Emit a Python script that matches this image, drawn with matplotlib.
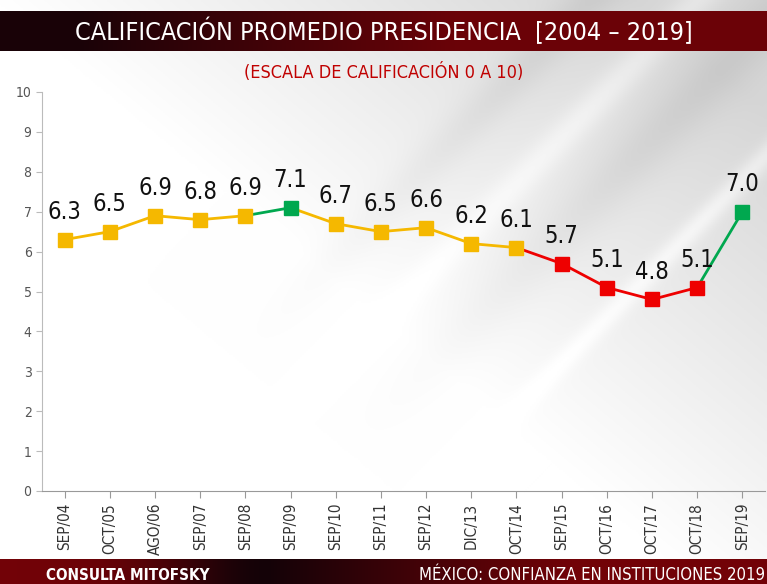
import matplotlib.pyplot as plt
import numpy as np

fechas = ['SEP/04', 'OCT/05', 'AGO/06', 'SEP/07', 'SEP/08', 'SEP/09', 'SEP/10', 'SEP/11',
          'SEP/12', 'DIC/13', 'OCT/14', 'SEP/15', 'OCT/16', 'OCT/17', 'OCT/18', 'SEP/19']
calificacion = [6.3, 6.5, 6.9, 6.8, 6.9, 7.1, 6.7, 6.5, 6.6, 6.2, 6.1, 5.7, 5.1, 4.8, 5.1, 7.0]
colores = ['#F5B800'] * 5 + ['#00A84F'] + ['#F5B800'] * 5 + ['#EE0000'] * 4 + ['#00A84F']

plt.rcParams['font.family'] = 'DejaVu Sans'
plt.rcParams['font.stretch'] = 'condensed'

fig = plt.figure(figsize=(7.67, 5.84), dpi=100)

# background: white with soft gray diagonal streaks towards the top right
bg = fig.add_axes([0, 0, 1, 1])
xx, yy = np.meshgrid(np.linspace(0, 1, 400), np.linspace(0, 1, 300))
d = (xx - 0.5) * 1.2 + (yy - 0.45) * 1.1
shade = 1 - 0.16 * np.clip(d, 0, 1)
s = xx - 0.75 * yy  # runs along "\" streaks
for c, w, a in [(0.02, 0.04, -0.05), (0.16, 0.03, 0.06), (0.28, 0.05, -0.05), (0.45, 0.02, 0.07)]:
    shade += a * np.exp(-((s - c) / w) ** 2) * np.clip(d + 0.3, 0, 1)
bg.imshow(np.dstack([np.clip(shade, 0, 1)] * 3), extent=[0, 1, 0, 1], aspect='auto', origin='lower')
bg.set_xlim(0, 1)
bg.set_ylim(0, 1)
bg.axis('off')

# title band
band = fig.add_axes([0, 1 - 51 / 584, 1, 40 / 584])
g = np.linspace(0, 1, 400)
r = 0.10 + 0.32 * np.clip((g - 0.1) / 0.5, 0, 1)
band.imshow(np.dstack([r[None, :], 0.01 + 0 * r[None, :], 0.03 + 0 * r[None, :]]),
            extent=[0, 1, 0, 1], aspect='auto')
band.axis('off')
band.text(0.5, 0.48, 'CALIFICACIÓN PROMEDIO PRESIDENCIA  [2004 – 2019]', color='white',
          fontsize=18, ha='center', va='center')

# footer band
foot = fig.add_axes([0, 0, 1, 25 / 584])
r2 = 0.45 - 0.37 * np.exp(-((g - 0.35) / 0.15) ** 2) * (g < 0.35) - 0.37 * (g >= 0.35) * np.clip(1 - (g - 0.35) / 0.4, 0, 1)
foot.imshow(np.dstack([r2[None, :], 0.01 + 0 * r2[None, :], 0.03 + 0 * r2[None, :]]),
            extent=[0, 1, 0, 1], aspect='auto')
foot.axis('off')
foot.text(0.06, 0.32, 'CONSULTA MITOFSKY', color='white', fontsize=11, fontweight='bold',
          ha='left', va='center')
foot.text(0.998, 0.38, 'MÉXICO: CONFIANZA EN INSTITUCIONES 2019', color='white', fontsize=12,
          ha='right', va='center')

fig.text(0.5, 1 - 72 / 584, '(ESCALA DE CALIFICACIÓN 0 A 10)', color='#C00000', fontsize=13,
         ha='center', va='center')

ax = fig.add_axes([42 / 767, 93 / 584, 723 / 767, 399 / 584])
ax.patch.set_alpha(0)
x = np.arange(len(fechas))
for i in range(1, len(x)):
    ax.plot(x[i - 1:i + 1], calificacion[i - 1:i + 1], color=colores[i], lw=2, zorder=2)
for i in range(len(x)):
    ax.plot(x[i], calificacion[i], marker='s', ms=10, color=colores[i], zorder=3)
    ax.text(x[i], calificacion[i] + 0.4, f'{calificacion[i]:.1f}', ha='center', va='bottom',
            fontsize=17, color='#111111')

ax.set_xlim(-0.5, 15.5)
ax.set_ylim(0, 10)
ax.set_yticks(range(11))
ax.set_xticks(x)
ax.set_xticklabels(fechas, rotation=90, fontsize=11, color='#333333')
ax.tick_params(axis='y', labelsize=10, labelcolor='#555555', color='#bbbbbb', length=4)
ax.tick_params(axis='x', color='#999999', length=5)
for sp in ['top', 'right']:
    ax.spines[sp].set_visible(False)
ax.spines['left'].set_color('#bbbbbb')
ax.spines['bottom'].set_color('#999999')

fig.savefig('out.png', dpi=100)
